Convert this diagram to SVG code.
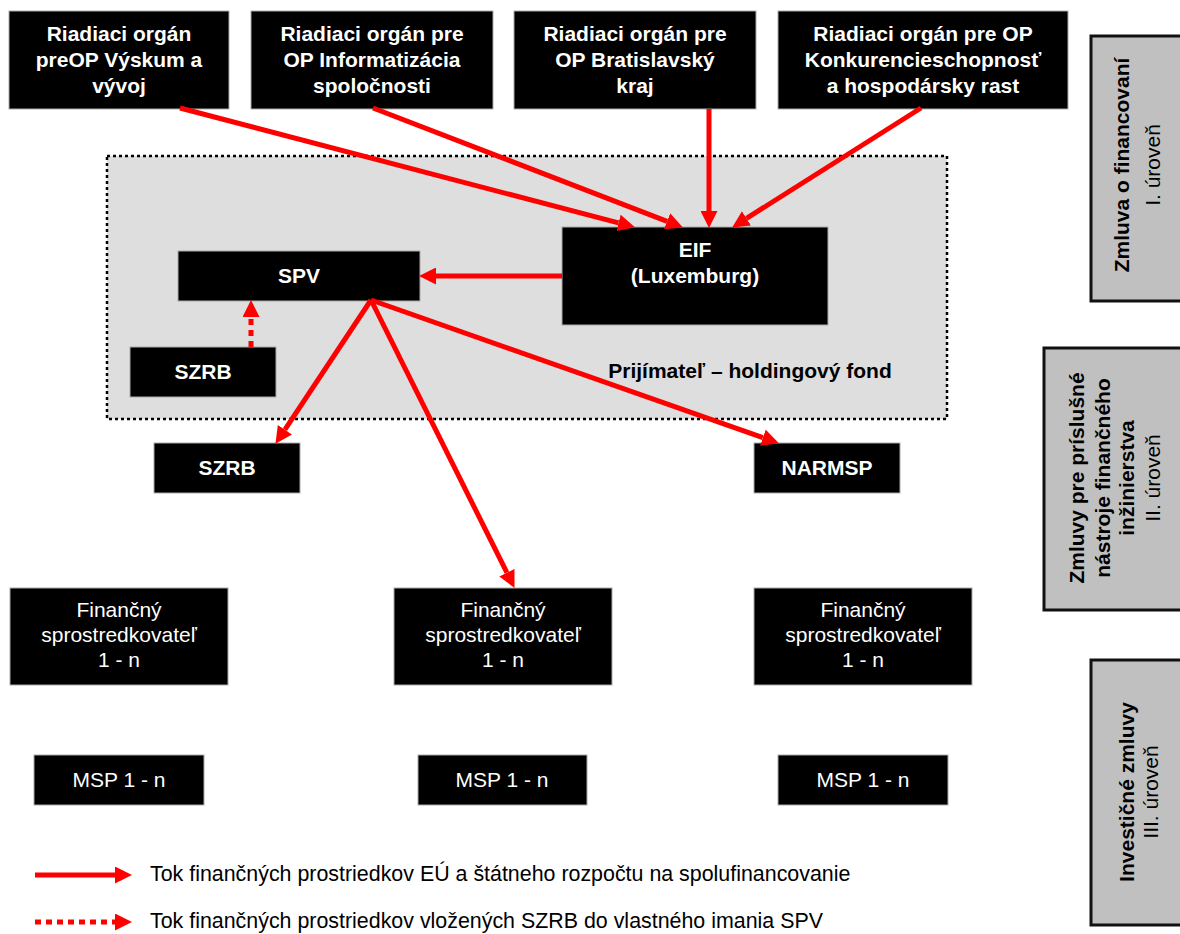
<svg xmlns="http://www.w3.org/2000/svg" width="1180" height="934" viewBox="0 0 1180 934">
<style>
text{font-family:"Liberation Sans",Arial,sans-serif;font-size:21px}
.b{font-weight:bold}
.w{fill:#fff}
.c{text-anchor:middle}
.lg{font-size:21.4px}
.box{fill:#000;stroke:#aaa;stroke-width:1}
.lvl{fill:#c0c0c0;stroke:#111;stroke-width:3}
.red{stroke:#ff0000;stroke-width:5;fill:none}
.dot{stroke:#ff0000;stroke-width:5;fill:none;stroke-dasharray:6 5}
</style>
<defs>
<marker id="ah" markerUnits="userSpaceOnUse" markerWidth="17" markerHeight="17" refX="0" refY="8" orient="auto" viewBox="0 0 16 16">
<path d="M0,0 L16,8 L0,16 Z" fill="#ff0000"/>
</marker>
</defs>
<rect width="1180" height="934" fill="#fff"/>

<g id="holding">
<rect x="107" y="156" width="840" height="263" fill="#dedede" stroke="#000" stroke-width="2.5" stroke-dasharray="3 3"/>
<text class="b c" x="750" y="378">Prijímateľ – holdingový fond</text>
</g>

<g id="ro1"><rect class="box" x="9" y="11" width="220" height="98"/>
<text class="b c w" x="119" y="41">Riadiaci orgán</text><text class="b c w" x="119" y="67">preOP Výskum a</text><text class="b c w" x="119" y="93">vývoj</text></g>
<g id="ro2"><rect class="box" x="251" y="11" width="242" height="98"/>
<text class="b c w" x="372" y="41">Riadiaci orgán pre</text><text class="b c w" x="372" y="67">OP Informatizácia</text><text class="b c w" x="372" y="93">spoločnosti</text></g>
<g id="ro3"><rect class="box" x="514" y="11" width="242" height="98"/>
<text class="b c w" x="635" y="41">Riadiaci orgán pre</text><text class="b c w" x="635" y="67">OP Bratislavský</text><text class="b c w" x="635" y="93">kraj</text></g>
<g id="ro4"><rect class="box" x="778" y="11" width="290" height="98"/>
<text class="b c w" x="923" y="41">Riadiaci orgán pre OP</text><text class="b c w" x="923" y="67">Konkurencieschopnosť</text><text class="b c w" x="923" y="93">a hospodársky rast</text></g>

<g id="eif"><rect class="box" x="562" y="227" width="266" height="98"/>
<text class="b c w" x="695" y="257">EIF</text><text class="b c w" x="695" y="283">(Luxemburg)</text></g>
<g id="spv"><rect class="box" x="178" y="251" width="242" height="50"/>
<text class="b c w" x="299" y="283">SPV</text></g>
<g id="szrb-in"><rect class="box" x="130" y="347" width="146" height="50"/>
<text class="b c w" x="203" y="379">SZRB</text></g>
<g id="szrb"><rect class="box" x="154" y="443" width="146" height="50"/>
<text class="b c w" x="227" y="475">SZRB</text></g>
<g id="narmsp"><rect class="box" x="754" y="443" width="146" height="50"/>
<text class="b c w" x="827" y="475">NARMSP</text></g>

<g id="fs1"><rect class="box" x="10" y="588" width="218" height="97"/>
<text class="c w" x="119" y="617">Finančný</text><text class="c w" x="119" y="642">sprostredkovateľ</text><text class="c w" x="119" y="667">1 - n</text></g>
<g id="fs2"><rect class="box" x="394" y="588" width="218" height="97"/>
<text class="c w" x="503" y="617">Finančný</text><text class="c w" x="503" y="642">sprostredkovateľ</text><text class="c w" x="503" y="667">1 - n</text></g>
<g id="fs3"><rect class="box" x="754" y="588" width="218" height="97"/>
<text class="c w" x="863" y="617">Finančný</text><text class="c w" x="863" y="642">sprostredkovateľ</text><text class="c w" x="863" y="667">1 - n</text></g>

<g id="msp1"><rect class="box" x="34" y="755" width="170" height="50"/><text class="c w" x="119" y="787">MSP 1 - n</text></g>
<g id="msp2"><rect class="box" x="418" y="755" width="169" height="50"/><text class="c w" x="502" y="787">MSP 1 - n</text></g>
<g id="msp3"><rect class="box" x="778" y="755" width="170" height="50"/><text class="c w" x="863" y="787">MSP 1 - n</text></g>

<g id="lvl1"><rect class="lvl" x="1091" y="36" width="100" height="265"/>
<text class="b c" transform="translate(1129,165) rotate(-90)">Zmluva o financovaní</text>
<text class="c" transform="translate(1160,165) rotate(-90)">I. úroveň</text></g>
<g id="lvl2"><rect class="lvl" x="1044" y="348" width="150" height="262"/>
<text class="b c" transform="translate(1084,478) rotate(-90)">Zmluvy pre príslušné</text>
<text class="b c" transform="translate(1110,478) rotate(-90)">nástroje finančného</text>
<text class="b c" transform="translate(1134,478) rotate(-90)">inžinierstva</text>
<text class="c" transform="translate(1160,478) rotate(-90)">II. úroveň</text></g>
<g id="lvl3"><rect class="lvl" x="1091" y="660" width="100" height="265"/>
<text class="b c" transform="translate(1134,792) rotate(-90)">Investičné zmluvy</text>
<text class="c" transform="translate(1158,792) rotate(-90)">III. úroveň</text></g>

<g id="connectors">
<line class="red" x1="180" y1="108" x2="618.5" y2="222.9" marker-end="url(#ah)"/>
<line class="red" x1="373" y1="108" x2="667.1" y2="221.3" marker-end="url(#ah)"/>
<line class="red" x1="709" y1="109" x2="709" y2="211" marker-end="url(#ah)"/>
<line class="red" x1="921" y1="108" x2="746.5" y2="218.4" marker-end="url(#ah)"/>
<line class="red" x1="562" y1="276" x2="436" y2="276" marker-end="url(#ah)"/>
<line class="red" x1="371" y1="300" x2="284.9" y2="429.7" marker-end="url(#ah)"/>
<line class="red" x1="371" y1="300" x2="506.9" y2="572.7" marker-end="url(#ah)"/>
<line class="red" x1="371" y1="300" x2="762.9" y2="437.7" marker-end="url(#ah)"/>
<line class="dot" x1="251" y1="347" x2="251" y2="317" marker-end="url(#ah)"/>
</g>

<g id="legend">
<line class="red" x1="35" y1="875" x2="115" y2="875" marker-end="url(#ah)"/>
<text class="lg" x="150" y="881">Tok finančných prostriedkov EÚ a štátneho rozpočtu na spolufinancovanie</text>
<line class="dot" x1="35" y1="922" x2="115" y2="922" marker-end="url(#ah)"/>
<text class="lg" x="150" y="928">Tok finančných prostriedkov vložených SZRB do vlastného imania SPV</text>
</g>
</svg>
